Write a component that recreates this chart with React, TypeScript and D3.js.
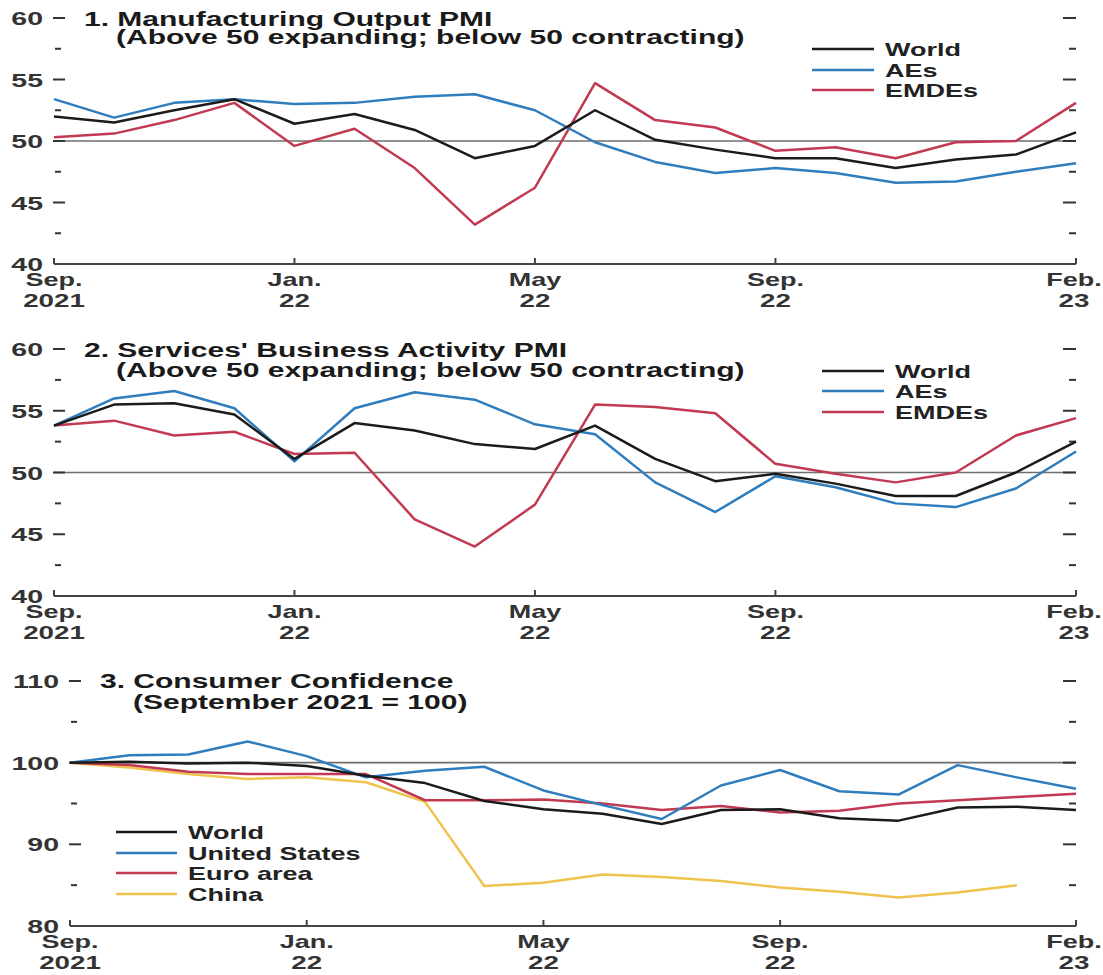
import React from "react";
import * as d3 from "d3";

const months = [
  "2021-09","2021-10","2021-11","2021-12","2022-01","2022-02","2022-03","2022-04","2022-05",
  "2022-06","2022-07","2022-08","2022-09","2022-10","2022-11","2022-12","2023-01","2023-02",
];
const xTickMonths = ["2021-09", "2022-01", "2022-05", "2022-09", "2023-02"];
const xTickLabels = [["Sep.", "2021"], ["Jan.", "22"], ["May", "22"], ["Sep.", "22"], ["Feb.", "23"]];

// Panel 1: Manufacturing Output PMI
const mfgWorld = [52.0,51.5,52.5,53.4,51.4,52.2,50.9,48.6,49.6,52.5,50.1,49.3,48.6,48.6,47.8,48.5,48.9,50.7];
const mfgAEs = [53.4,51.9,53.1,53.4,53.0,53.1,53.6,53.8,52.5,49.9,48.3,47.4,47.8,47.4,46.6,46.7,47.5,48.2];
const mfgEMDEs = [50.3,50.6,51.7,53.1,49.6,51.0,47.8,43.2,46.2,54.7,51.7,51.1,49.2,49.5,48.6,49.9,50.0,53.1];

// Panel 2: Services' Business Activity PMI
const svcWorld = [53.8,55.5,55.6,54.7,51.1,54.0,53.4,52.3,51.9,53.8,51.1,49.3,49.9,49.1,48.1,48.1,50.0,52.5];
const svcAEs = [53.8,56.0,56.6,55.2,50.9,55.2,56.5,55.9,53.9,53.1,49.2,46.8,49.7,48.8,47.5,47.2,48.7,51.7];
const svcEMDEs = [53.8,54.2,53.0,53.3,51.5,51.6,46.2,44.0,47.4,55.5,55.3,54.8,50.7,49.9,49.2,50.0,53.0,54.4];

// Panel 3: Consumer Confidence
const ccWorld = [100,100.1,99.9,100,99.6,98.4,97.5,95.3,94.3,93.75,92.5,94.2,94.3,93.2,92.9,94.5,94.6,94.2];
const ccUS = [100,100.9,101.0,102.6,100.8,98.2,99.0,99.5,96.6,94.8,93.1,97.2,99.1,96.5,96.1,99.7,98.2,96.8];
const ccEuro = [100,99.7,98.9,98.6,98.6,98.6,95.4,95.4,95.5,95.0,94.2,94.7,93.9,94.1,95.0,95.4,95.8,96.2];
const ccChina: (number | null)[] = [100,99.4,98.6,98.0,98.2,97.6,95.2,84.9,85.3,86.3,86.0,85.5,84.7,84.2,83.5,84.1,85.0,null];

const pmiMajor = [40, 45, 50, 55, 60];
const pmiMinor = [42.5, 47.5, 52.5, 57.5];
const ccMajor = [80, 90, 100, 110];
const ccMinor = [85, 95, 105];

const C_BLACK = "#1b1b1b";
const C_BLUE = "#2f7dbd";
const C_RED = "#c13a52";
const C_YELLOW = "#f0c24e";

const FONT = "'Liberation Sans', Arial, Helvetica, sans-serif";

function T({ x, y, children, anchor = "start", size = 19, fill = "#1e1e1e", sx = 1.5 }: any) {
  return (
    <text
      transform={`translate(${x},${y}) scale(${sx},1)`}
      textAnchor={anchor}
      fontSize={size}
      fontWeight={700}
      fill={fill}
      fontFamily={FONT}
    >
      {children}
    </text>
  );
}

type Series = { name: string; values: (number | null)[]; color: string };

type PanelProps = {
  x0: number;
  x1: number;
  yTop: number;
  yBottom: number;
  domain: [number, number];
  major: number[];
  minor: number[];
  refValue: number;
  series: Series[];
  title: string[];
  titlePos: [number, number][];
  legendX: number;
  legendY: number[];
  legendLen: number;
};

function Panel(p: PanelProps) {
  const x = d3.scalePoint<string>().domain(months).range([p.x0, p.x1]);
  const y = d3.scaleLinear().domain(p.domain).range([p.yBottom, p.yTop]);
  const line = d3
    .line<number | null>()
    .defined((d) => d !== null)
    .x((_, i) => x(months[i]) as number)
    .y((d) => y(d as number));
  const tickColor = "#333";
  return (
    <g>
      {/* reference line */}
      <line x1={p.x0} x2={p.x1} y1={y(p.refValue)} y2={y(p.refValue)} stroke="#6e6e6e" strokeWidth={1.6} />
      {/* left & right ticks */}
      {p.major.filter((v) => v !== p.domain[0]).map((v) => (
        <g key={"M" + v}>
          <line x1={p.x0 - 1} x2={p.x0 + 11} y1={y(v)} y2={y(v)} stroke={tickColor} strokeWidth={2} />
          <line x1={p.x1 - 13} x2={p.x1} y1={y(v)} y2={y(v)} stroke={tickColor} strokeWidth={2} />
        </g>
      ))}
      {p.minor.map((v) => (
        <g key={"m" + v}>
          <line x1={p.x0 + 1} x2={p.x0 + 7} y1={y(v)} y2={y(v)} stroke={tickColor} strokeWidth={2} />
          <line x1={p.x1 - 7} x2={p.x1} y1={y(v)} y2={y(v)} stroke={tickColor} strokeWidth={2} />
        </g>
      ))}
      {/* y labels */}
      {p.major.map((v) => (
        <T key={"l" + v} x={p.x0 - 11} y={y(v) + 7} anchor="end" size={19} fill="#333">
          {String(v)}
        </T>
      ))}
      {/* x axis */}
      <line x1={p.x0} x2={p.x1} y1={p.yBottom} y2={p.yBottom} stroke="#444" strokeWidth={2} />
      {xTickMonths.map((m, i) => {
        const tx = (x(m) as number) - (i === xTickMonths.length - 1 ? 2 : 0);
        return (
          <g key={m}>
            <line x1={x(m)} x2={x(m)} y1={p.yBottom} y2={p.yBottom - 6} stroke="#444" strokeWidth={2} />
            <T x={tx} y={p.yBottom + 21.5} anchor="middle" size={18} fill="#333">
              {xTickLabels[i][0]}
            </T>
            <T x={tx} y={p.yBottom + 42.5} anchor="middle" size={18.5} fill="#333">
              {xTickLabels[i][1]}
            </T>
          </g>
        );
      })}
      {/* series */}
      {[...p.series].reverse().map((s) => (
        <path key={s.name} d={line(s.values) || ""} fill="none" stroke={s.color} strokeWidth={2.5} strokeLinejoin="round" />
      ))}
      {/* title */}
      {p.title.map((t, i) => (
        <T key={t} x={p.titlePos[i][0]} y={p.titlePos[i][1]} size={19.5} sx={1.54} fill="#1a1a1a">
          {t}
        </T>
      ))}
      {/* legend */}
      {p.series.map((s, i) => (
        <g key={"lg" + s.name}>
          <line x1={p.legendX} x2={p.legendX + p.legendLen} y1={p.legendY[i]} y2={p.legendY[i]} stroke={s.color} strokeWidth={2.5} />
          <T x={p.legendX + p.legendLen + 11} y={p.legendY[i] + 6.5} size={18} fill="#222">
            {s.name}
          </T>
        </g>
      ))}
    </g>
  );
}

export default function App() {
  return (
    <svg
      width={1103}
      height={975}
      style={{ position: "absolute", left: 0, top: 0, background: "#fff" }}
    >
      <rect width={1103} height={975} fill="#fff" />
      <Panel
        x0={54}
        x1={1076}
        yTop={18}
        yBottom={264}
        domain={[40, 60]}
        major={pmiMajor}
        minor={pmiMinor}
        refValue={50}
        series={[
          { name: "World", values: mfgWorld, color: C_BLACK },
          { name: "AEs", values: mfgAEs, color: C_BLUE },
          { name: "EMDEs", values: mfgEMDEs, color: C_RED },
        ]}
        title={["1. Manufacturing Output PMI", "(Above 50 expanding; below 50 contracting)"]}
        titlePos={[[84, 25.5], [116, 44]]}
        legendX={812}
        legendY={[49, 70, 90]}
        legendLen={62}
      />
      <Panel
        x0={54}
        x1={1076}
        yTop={349}
        yBottom={596}
        domain={[40, 60]}
        major={pmiMajor}
        minor={pmiMinor}
        refValue={50}
        series={[
          { name: "World", values: svcWorld, color: C_BLACK },
          { name: "AEs", values: svcAEs, color: C_BLUE },
          { name: "EMDEs", values: svcEMDEs, color: C_RED },
        ]}
        title={["2. Services' Business Activity PMI", "(Above 50 expanding; below 50 contracting)"]}
        titlePos={[[84, 356.5], [116, 377]]}
        legendX={822}
        legendY={[371, 391, 412]}
        legendLen={62}
      />
      <Panel
        x0={70}
        x1={1076}
        yTop={681}
        yBottom={926}
        domain={[80, 110]}
        major={ccMajor}
        minor={ccMinor}
        refValue={100}
        series={[
          { name: "World", values: ccWorld, color: C_BLACK },
          { name: "United States", values: ccUS, color: C_BLUE },
          { name: "Euro area", values: ccEuro, color: C_RED },
          { name: "China", values: ccChina, color: C_YELLOW },
        ]}
        title={["3. Consumer Confidence", "(September 2021 = 100)"]}
        titlePos={[[100, 688], [133, 709]]}
        legendX={116}
        legendY={[832, 853, 873, 894]}
        legendLen={61}
      />
    </svg>
  );
}
